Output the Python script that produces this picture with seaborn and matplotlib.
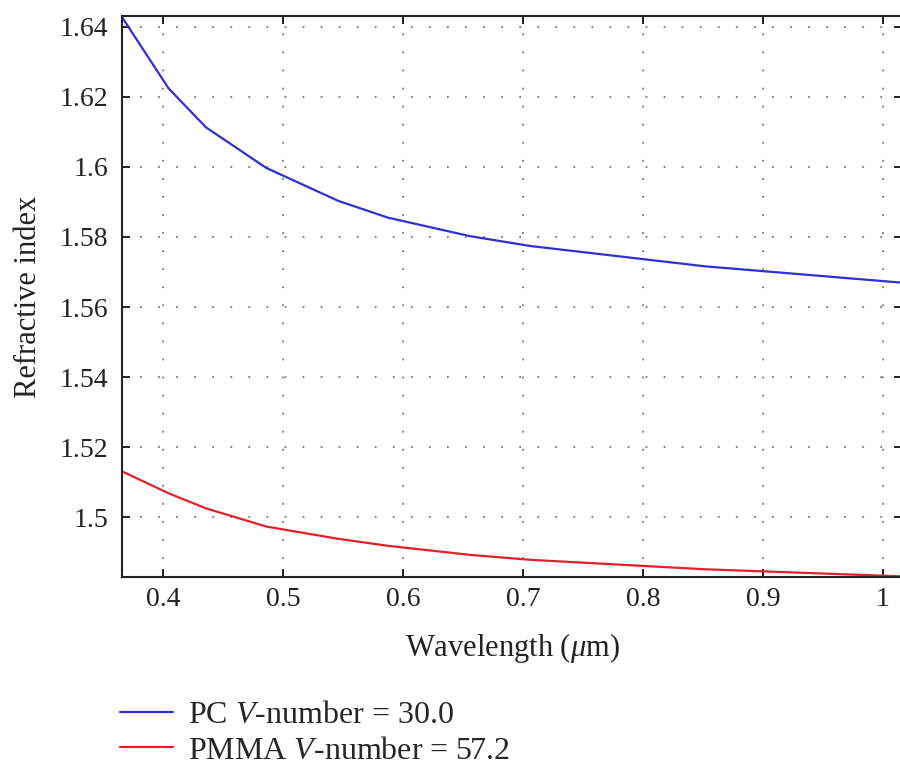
import seaborn as sns
import matplotlib.pyplot as plt
import pandas as pd

# wavelengths of the standard spectral lines (um)
wavelength = [0.3650, 0.4047, 0.4358, 0.4861, 0.5461, 0.5876, 0.6563, 0.7065, 0.8521, 1.0140]
n_pc = [1.6432, 1.6224, 1.6113, 1.5997, 1.5903, 1.5855, 1.5802, 1.5774, 1.5716, 1.5670]
n_pmma = [1.5132, 1.5068, 1.5025, 1.4973, 1.4938, 1.4918, 1.4892, 1.4878, 1.4851, 1.4831]
labels = ["PC $V$-number = 30.0", "PMMA $V$-number = 57.2"]
colors = ["#2f2fd6", "#e0202c"]

xticks = [0.4, 0.5, 0.6, 0.7, 0.8, 0.9, 1.0]
xticklabels = ["0.4", "0.5", "0.6", "0.7", "0.8", "0.9", "1"]
yticks = [1.50, 1.52, 1.54, 1.56, 1.58, 1.60, 1.62, 1.64]
yticklabels = ["1.5", "1.52", "1.54", "1.56", "1.58", "1.6", "1.62", "1.64"]

df = pd.concat([
    pd.DataFrame({"wavelength": wavelength, "n": n_pc, "material": labels[0]}),
    pd.DataFrame({"wavelength": wavelength, "n": n_pmma, "material": labels[1]}),
])

sns.set_style("ticks")
plt.rcParams["font.family"] = ["Liberation Serif", "DejaVu Serif"]
plt.rcParams["mathtext.fontset"] = "custom"
plt.rcParams["mathtext.rm"] = "Liberation Serif"
plt.rcParams["mathtext.it"] = "Liberation Serif:italic"

fig = plt.figure(figsize=(9, 7.69), dpi=100)
# right spine sits just past the image edge, as in the reference
ax = fig.add_axes([122 / 900, 192 / 769, 780 / 900, 561 / 769])

sns.lineplot(data=df, x="wavelength", y="n", hue="material",
             palette=dict(zip(labels, colors)), linewidth=1.6, ax=ax)

ax.set_xlim(0.3658, 1.0158)
ax.set_ylim(1.4829, 1.6431)
ax.set_xticks(xticks)
ax.set_xticklabels(xticklabels)
ax.set_yticks(yticks)
ax.set_yticklabels(yticklabels)
ax.tick_params(direction="in", length=6, width=1.4, top=True, right=True,
               labelsize=20, colors="#222222")
ax.tick_params(axis="x", pad=7)
ax.tick_params(axis="y", pad=10)
ax.grid(True, color="#777777", linestyle=(0, (1, 9)), linewidth=1.3)
for s in ax.spines.values():
    s.set_linewidth(1.5)
    s.set_color("#222222")

ax.set_xlabel("Wavelength ($\\mu$m)", fontsize=22, color="#222222", labelpad=14)
ax.set_ylabel("Refractive index", fontsize=22, color="#222222", labelpad=12)

ax.legend(loc="upper left", bbox_to_anchor=(0.1333, 0.089), bbox_transform=fig.transFigure,
          frameon=False, fontsize=23, handlelength=1.66, handletextpad=0.47,
          labelspacing=0.2, borderpad=0, borderaxespad=0)

fig.savefig("out.png", dpi=100)
